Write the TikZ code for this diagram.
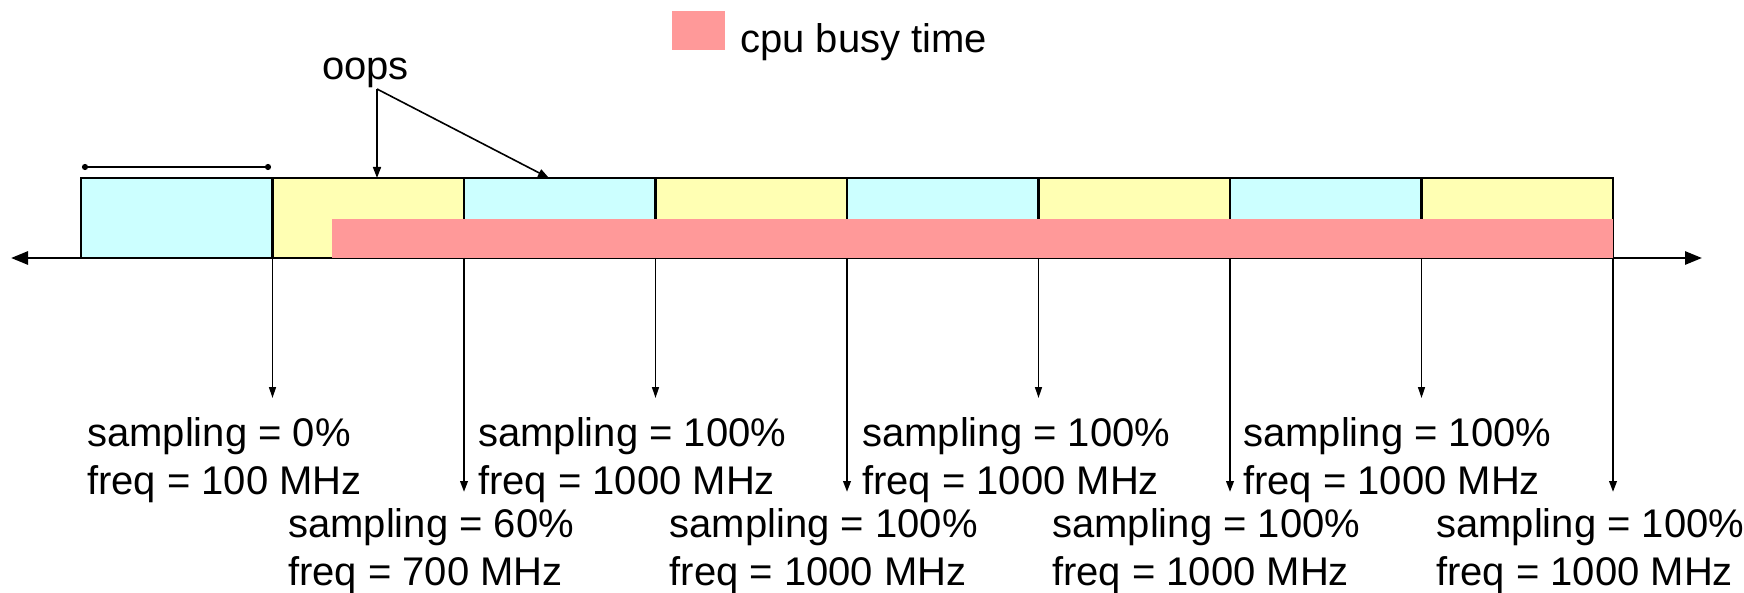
\documentclass[tikz,border=0pt]{standalone}
\usepackage{fontspec}
\setmainfont{Liberation Sans}
\usetikzlibrary{arrows.meta}
\definecolor{cellcyan}{HTML}{CCFFFF}
\definecolor{cellyellow}{HTML}{FFFFB3}
\definecolor{busy}{HTML}{FF9999}
\begin{document}
\begin{tikzpicture}[x=1pt,y=-1pt,
  cell/.style={draw, line width=2.6pt, minimum width=191.5pt, minimum height=80pt, inner sep=0pt, outer sep=0pt, anchor=north west},
  lbl/.style={align=left, anchor=base west, inner sep=0pt, font=\fontsize{40}{48}\selectfont},
  thinarrow/.style={line width=1.4pt, -{Triangle[length=11pt,width=7pt]}},
  thickarrow/.style={line width=2.2pt, -{Triangle[length=11pt,width=7.5pt]}},
  oarrow/.style={line width=1.6pt, -{Triangle[length=11pt,width=8pt]}},
  axisline/.style={line width=2.8pt, {Triangle[length=17pt,width=13pt]}-{Triangle[length=17pt,width=13pt]}},
  bracket/.style={line width=2pt, {Circle[length=6pt]}-{Circle[length=6pt]}}]
\useasboundingbox (0,0) rectangle (1744,593);

% time axis
\coordinate (axL) at (11,258);
\coordinate (axR) at (1702,258);
\draw[axisline] (axL) -- (axR);

% cells
\foreach \i/\c in {1/cellcyan,2/cellyellow,3/cellcyan,4/cellyellow,5/cellcyan,6/cellyellow,7/cellcyan,8/cellyellow}{
  \node[cell, fill=\c] (c\i) at ({81+(\i-1)*191.5},178) {};
}

% cpu busy bar
\node[fill=busy, inner sep=0pt, outer sep=0pt, minimum width=1281.2pt, minimum height=39.5pt, anchor=north west] (busybar) at (331.5,219) {};

% bracket above first cell
\coordinate (bl) at (82,167);
\coordinate (br) at (271,167);
\draw[bracket] (bl) -- (br);

% legend
\node[fill=busy, inner sep=0pt, minimum width=53pt, minimum height=39pt, anchor=north west] (legsq) at (672,11) {};
\node[lbl] (legtxt) at (740,53) {cpu busy time};

% oops
\node[lbl] (oops) at (322,80) {oops};
\coordinate (ofork) at (377,89);
\coordinate (otgt) at (549,178);
\draw[oarrow] (ofork) -- (ofork |- c2.north);
\draw[oarrow] (ofork) -- (otgt);

% sampling arrows
\foreach \i in {1,3,5,7}{
  \path (c\i.south east) ++(0,140) coordinate (t\i);
  \draw[thinarrow] (c\i.south east) -- (t\i);
}
\foreach \i in {2,4,6,8}{
  \path (c\i.south east) ++(0,234) coordinate (t\i);
  \draw[thickarrow] (c\i.south east) -- (t\i);
}

% labels (base anchor = baseline of last line)
\node[lbl] (s1) at (87,494) {sampling = 0\%\\freq = 100 MHz};
\node[lbl] (s3) at (478,494) {sampling = 100\%\\freq = 1000 MHz};
\node[lbl] (s5) at (862,494) {sampling = 100\%\\freq = 1000 MHz};
\node[lbl] (s7) at (1243,494) {sampling = 100\%\\freq = 1000 MHz};
\node[lbl] (s2) at (288,585) {sampling = 60\%\\freq = 700 MHz};
\node[lbl] (s4) at (669.5,585) {sampling = 100\%\\freq = 1000 MHz};
\node[lbl] (s6) at (1052,585) {sampling = 100\%\\freq = 1000 MHz};
\node[lbl] (s8) at (1436,585) {sampling = 100\%\\freq = 1000 MHz};
\end{tikzpicture}
\end{document}
